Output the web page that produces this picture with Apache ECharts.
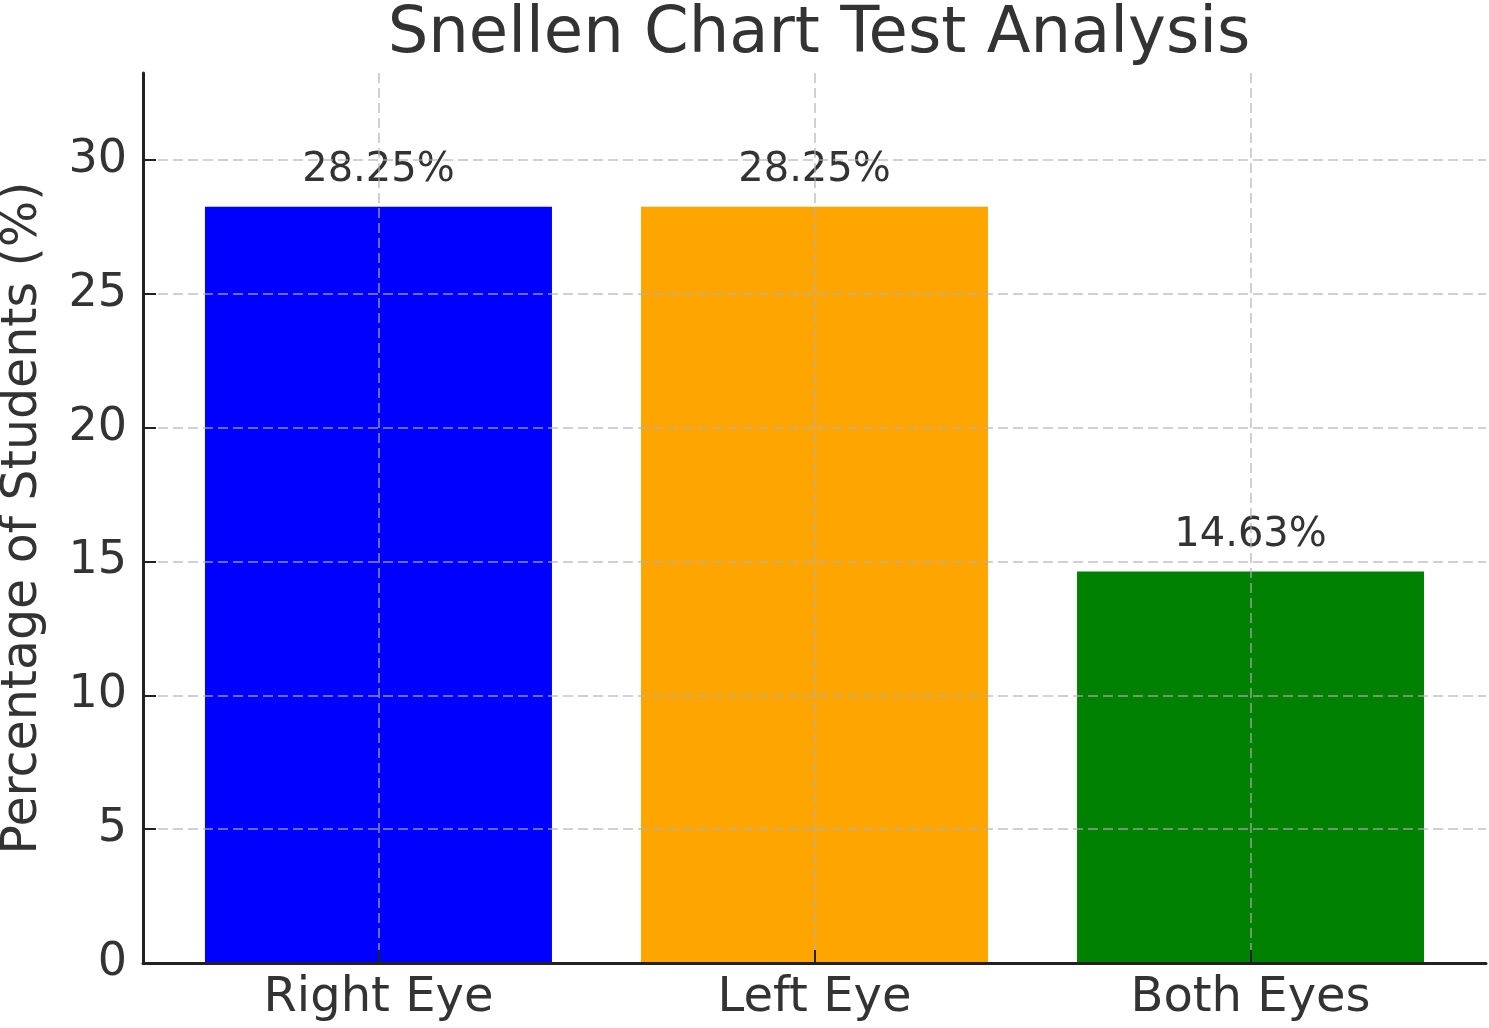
<!DOCTYPE html>
<html>
<head>
<meta charset="utf-8">
<script src="https://cdn.jsdelivr.net/npm/echarts@6/dist/echarts.min.js"></script>
<style>
  html, body { margin: 0; padding: 0; background: #fff; }
  #chart { width: 1489px; height: 1028px; }
</style>
</head>
<body>
<div id="chart"></div>
<script>
const categories = ['Right Eye', 'Left Eye', 'Both Eyes'];
const percentages = [28.25, 28.25, 14.63];
const barColors = ['#0000ff', '#ffa500', '#008000'];
const yTicks = [0, 5, 10, 15, 20, 25, 30];

const font = 'DejaVu Sans';
const textColor = '#333333';
const gridLine = { show: true, lineStyle: { color: '#b0b0b0', width: 2, type: [10, 5], opacity: 0.6 } };

const chart = echarts.init(document.getElementById('chart'));

const catPositions = categories.map((c, i) => i);

chart.setOption({
  animation: false,
  backgroundColor: '#ffffff',
  title: {
    text: 'Snellen Chart Test Analysis',
    left: 814,
    top: -2,
    textAlign: 'center',
    textStyle: { fontFamily: font, fontSize: 64, fontWeight: 'normal', color: textColor }
  },
  grid: { left: 143, right: 3, top: 73, bottom: 65, outerBoundsMode: 'none', containLabel: false },
  xAxis: {
    type: 'value',
    min: -0.54,
    max: 2.54,
    z: 5,
    axisLine: { show: true, onZero: false, lineStyle: { color: '#222222', width: 3 } },
    axisTick: { show: true, inside: true, length: 13, lineStyle: { color: '#222222', width: 2 }, customValues: catPositions },
    axisLabel: {
      customValues: catPositions,
      formatter: v => categories[Math.round(v)],
      fontFamily: font, fontSize: 48, color: textColor, margin: 12
    },
    splitLine: gridLine
  },
  yAxis: {
    type: 'value',
    min: 0,
    max: 33.25,
    z: 5,
    name: 'Percentage of Students (%)',
    nameLocation: 'middle',
    nameGap: 95,
    nameTextStyle: { fontFamily: font, fontSize: 49, color: textColor },
    axisLine: { show: true, onZero: false, lineStyle: { color: '#222222', width: 3 } },
    axisTick: { show: true, inside: true, length: 13, lineStyle: { color: '#222222', width: 2 }, customValues: yTicks },
    axisLabel: {
      customValues: yTicks,
      fontFamily: font, fontSize: 46, color: textColor, margin: 16
    },
    splitLine: gridLine
  },
  series: [{
    type: 'bar',
    barWidth: 347,
    z: 1,
    data: percentages.map((v, i) => ({ value: [i, v], itemStyle: { color: barColors[i] } })),
    label: {
      show: true,
      position: 'top',
      distance: 16,
      formatter: p => p.value[1] + '%',
      fontFamily: font, fontSize: 40, color: textColor
    }
  }]
});
</script>
</body>
</html>
